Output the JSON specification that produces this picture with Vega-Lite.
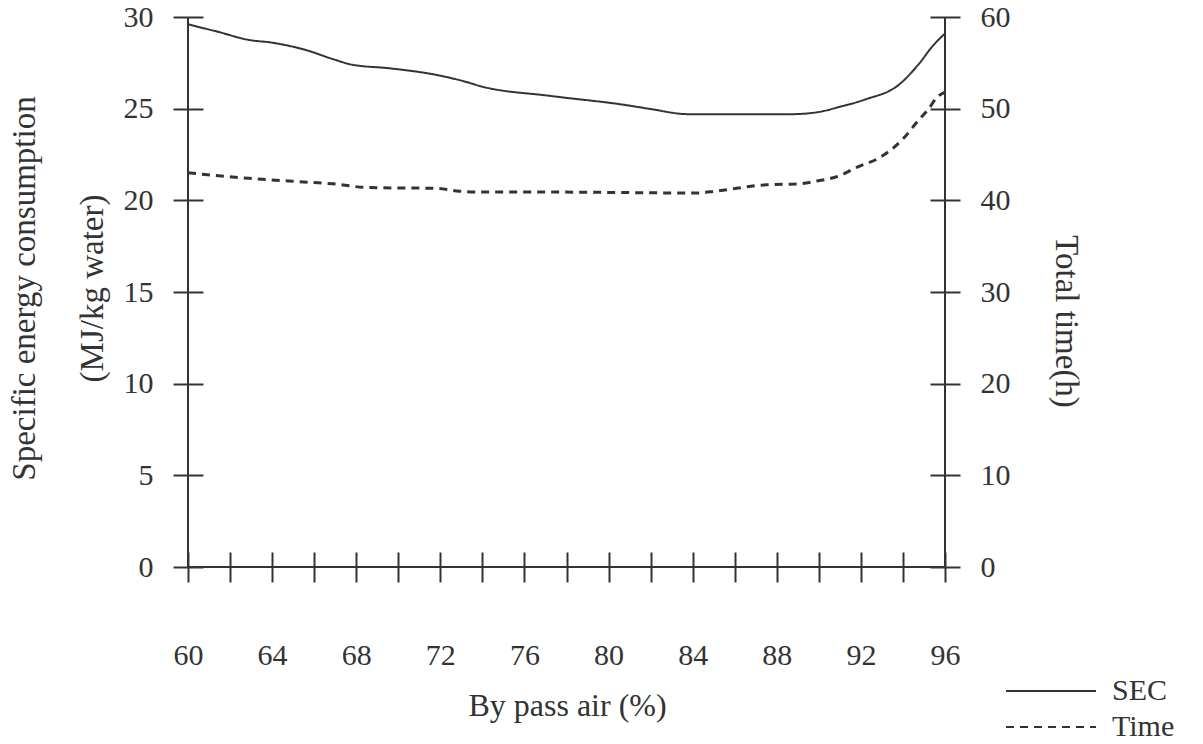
{
  "$schema": "https://vega.github.io/schema/vega-lite/v6.json",
  "width": 757,
  "height": 550,
  "autosize": {"type": "none"},
  "padding": {"left": 188, "top": 17, "right": 258, "bottom": 177},
  "background": "white",
  "config": {
    "view": {"stroke": null},
    "axis": {
      "grid": false,
      "domain": false,
      "tickColor": "#333",
      "tickWidth": 2,
      "labelFont": "Liberation Serif",
      "labelFontSize": 30,
      "labelColor": "#333",
      "labelFlush": false,
      "labelOverlap": false,
      "labelBound": false,
      "titleFont": "Liberation Serif",
      "titleFontSize": 32,
      "titleFontWeight": "normal",
      "titleColor": "#333"
    },
    "legend": {
      "orient": "none",
      "legendX": 871,
      "legendY": 655,
      "padding": 0,
      "symbolType": "M-4,0H1",
      "symbolSize": 1296,
      "symbolStrokeWidth": 2,
      "symbolStrokeColor": "#333",
      "labelFont": "Liberation Serif",
      "labelFontSize": 30,
      "labelColor": "#333",
      "labelOffset": 15,
      "rowPadding": 2
    }
  },
  "layer": [
    {
      "layer": [
        {
          "data": {
            "values": [
              {"x": 60, "y": 29.6, "series": "SEC"},
              {"x": 61.4, "y": 29.2, "series": "SEC"},
              {"x": 62.9, "y": 28.75, "series": "SEC"},
              {"x": 64, "y": 28.6, "series": "SEC"},
              {"x": 65.6, "y": 28.2, "series": "SEC"},
              {"x": 66.9, "y": 27.7, "series": "SEC"},
              {"x": 67.8, "y": 27.4, "series": "SEC"},
              {"x": 69.6, "y": 27.2, "series": "SEC"},
              {"x": 72, "y": 26.8, "series": "SEC"},
              {"x": 73.1, "y": 26.5, "series": "SEC"},
              {"x": 74, "y": 26.2, "series": "SEC"},
              {"x": 77.2, "y": 25.7, "series": "SEC"},
              {"x": 80.8, "y": 25.2, "series": "SEC"},
              {"x": 81.9, "y": 25.0, "series": "SEC"},
              {"x": 83.8, "y": 24.7, "series": "SEC"},
              {"x": 88.7, "y": 24.7, "series": "SEC"},
              {"x": 89.9, "y": 24.8, "series": "SEC"},
              {"x": 91, "y": 25.1, "series": "SEC"},
              {"x": 92.2, "y": 25.5, "series": "SEC"},
              {"x": 93.8, "y": 26.3, "series": "SEC"},
              {"x": 94.8, "y": 27.5, "series": "SEC"},
              {"x": 95.4, "y": 28.4, "series": "SEC"},
              {"x": 96, "y": 29.1, "series": "SEC"}
            ]
          },
          "mark": {"type": "line", "color": "#333", "strokeWidth": 2, "interpolate": "monotone"},
          "encoding": {
            "x": {
              "field": "x",
              "type": "quantitative",
              "scale": {"domain": [60, 96], "nice": false, "zero": false},
              "axis": {
                "values": [60, 62, 64, 66, 68, 70, 72, 74, 76, 78, 80, 82, 84, 86, 88, 90, 92, 94, 96],
                "labelExpr": "datum.value % 4 === 0 ? datum.label : ''",
                "offset": -15,
                "tickSize": 30,
                "labelPadding": 58,
                "title": "By pass air (%)",
                "titleX": 379,
                "titleY": 163,
                "titleAlign": "center",
                "titleBaseline": "alphabetic"
              }
            },
            "y": {
              "field": "y",
              "type": "quantitative",
              "scale": {"domain": [0, 30], "nice": false},
              "axis": {
                "values": [0, 5, 10, 15, 20, 25, 30],
                "offset": -15,
                "tickSize": 30,
                "labelPadding": 20,
                "title": ["Specific energy consumption", "(MJ/kg water)"],
                "titleFontSize": 33,
                "titleAngle": 270,
                "titleX": -179,
                "titleY": 271,
                "titleAlign": "center",
                "titleBaseline": "middle",
                "titleLineHeight": 68
              }
            },
            "strokeDash": {
              "field": "series",
              "type": "nominal",
              "scale": {"domain": ["SEC", "Time"], "range": [[1, 0], [8, 6]]},
              "legend": {"title": null}
            }
          }
        },
        {
          "data": {"values": [{}]},
          "mark": {"type": "rule", "color": "#333", "strokeWidth": 2},
          "encoding": {"x": {"datum": 60}}
        },
        {
          "data": {"values": [{}]},
          "mark": {"type": "rule", "color": "#333", "strokeWidth": 2},
          "encoding": {"x": {"datum": 96}}
        },
        {
          "data": {"values": [{}]},
          "mark": {"type": "rule", "color": "#333", "strokeWidth": 2},
          "encoding": {"y": {"datum": 0}}
        }
      ]
    },
    {
      "data": {
        "values": [
          {"x": 60, "t": 43.0, "series": "Time"},
          {"x": 62.9, "t": 42.4, "series": "Time"},
          {"x": 65.5, "t": 42.0, "series": "Time"},
          {"x": 66.9, "t": 41.8, "series": "Time"},
          {"x": 68.5, "t": 41.4, "series": "Time"},
          {"x": 71.8, "t": 41.3, "series": "Time"},
          {"x": 72.9, "t": 41.0, "series": "Time"},
          {"x": 74, "t": 40.9, "series": "Time"},
          {"x": 77.2, "t": 40.9, "series": "Time"},
          {"x": 84.2, "t": 40.8, "series": "Time"},
          {"x": 85.1, "t": 41.0, "series": "Time"},
          {"x": 87.5, "t": 41.7, "series": "Time"},
          {"x": 89.1, "t": 41.8, "series": "Time"},
          {"x": 89.9, "t": 42.1, "series": "Time"},
          {"x": 91, "t": 42.7, "series": "Time"},
          {"x": 91.8, "t": 43.6, "series": "Time"},
          {"x": 93, "t": 44.8, "series": "Time"},
          {"x": 94, "t": 46.7, "series": "Time"},
          {"x": 94.8, "t": 48.9, "series": "Time"},
          {"x": 95.2, "t": 49.9, "series": "Time"},
          {"x": 95.6, "t": 51.2, "series": "Time"},
          {"x": 96, "t": 51.8, "series": "Time"}
        ]
      },
      "mark": {"type": "line", "color": "#333", "strokeWidth": 3, "interpolate": "monotone"},
      "encoding": {
        "x": {"field": "x", "type": "quantitative"},
        "y": {
          "field": "t",
          "type": "quantitative",
          "scale": {"domain": [0, 60], "nice": false},
          "axis": {
            "orient": "right",
            "values": [0, 10, 20, 30, 40, 50, 60],
            "offset": -15,
            "tickSize": 30,
            "labelPadding": 20,
            "labelAlign": "left",
            "title": "Total time(h)",
            "titleFontSize": 33,
            "titleAngle": 90,
            "titleX": 135,
            "titleY": 304,
            "titleAlign": "center",
            "titleBaseline": "middle"
          }
        },
        "strokeDash": {"field": "series", "type": "nominal"}
      }
    }
  ],
  "resolve": {"scale": {"y": "independent"}}
}
